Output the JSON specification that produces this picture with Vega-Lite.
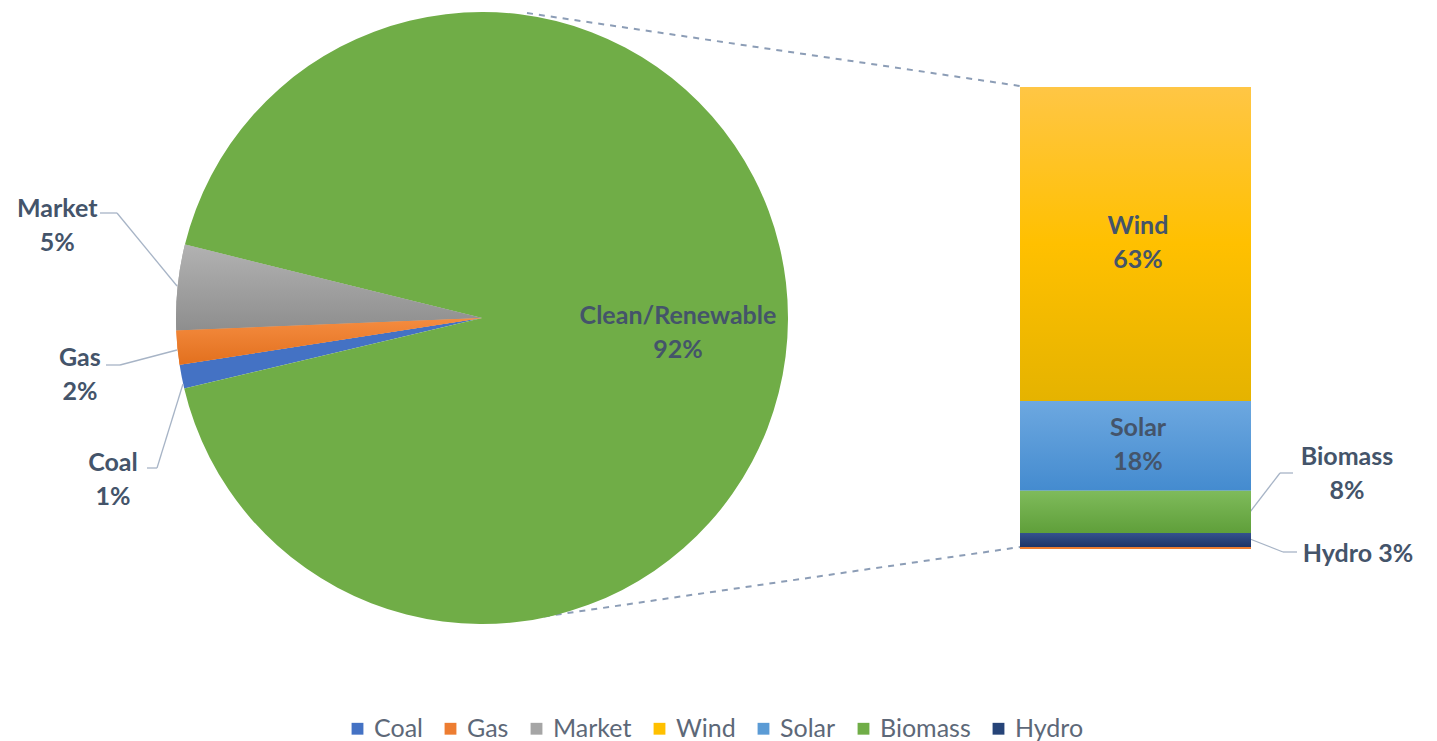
{
  "$schema": "https://vega.github.io/schema/vega-lite/v6.json",
  "width": 1437,
  "height": 741,
  "autosize": {"type": "none"},
  "padding": 0,
  "background": "white",
  "config": {"view": {"stroke": null}, "font": "Lato"},
  "datasets": {
    "pie": [
      {"category": "Coal", "share": 1.25, "seq": 1, "label": "Coal\n1%"},
      {"category": "Gas", "share": 1.8, "seq": 2, "label": "Gas\n2%"},
      {"category": "Market", "share": 4.5, "seq": 3, "label": "Market\n5%"},
      {"category": "Clean/Renewable", "share": 92.45, "seq": 4, "label": "Clean/Renewable\n92%"}
    ],
    "bar": [
      {"category": "Other", "share": 0.4, "seq": 1, "label": ""},
      {"category": "Hydro", "share": 2.8, "seq": 2, "label": "Hydro 3%"},
      {"category": "Biomass", "share": 8.4, "seq": 3, "label": "Biomass\n8%"},
      {"category": "Solar", "share": 17.9, "seq": 4, "label": "Solar\n18%"},
      {"category": "Wind", "share": 62.5, "seq": 5, "label": "Wind\n63%"}
    ]
  },
  "resolve": {"scale": {"y": "independent"}},
  "layer": [
    {
      "data": {"values": [{}]},
      "mark": {"type": "rule", "color": "#8C9DB6", "strokeWidth": 2, "strokeDash": [6, 6]},
      "encoding": {
        "x": {"datum": 527, "type": "quantitative", "scale": {"domain": [0, 1437], "nice": false, "zero": false}, "axis": null},
        "x2": {"datum": 1020},
        "y": {"datum": 13, "type": "quantitative", "scale": {"domain": [0, 741], "nice": false, "zero": false, "reverse": true}, "axis": null},
        "y2": {"datum": 86}
      }
    },
    {
      "data": {"values": [{}]},
      "mark": {"type": "rule", "color": "#8C9DB6", "strokeWidth": 2, "strokeDash": [6, 6]},
      "encoding": {
        "x": {"datum": 520, "type": "quantitative", "scale": {"domain": [0, 1437], "nice": false, "zero": false}, "axis": null},
        "x2": {"datum": 1020},
        "y": {"datum": 620, "type": "quantitative", "scale": {"domain": [0, 741], "nice": false, "zero": false, "reverse": true}, "axis": null},
        "y2": {"datum": 547}
      }
    },
    {
      "data": {"name": "pie"},
      "mark": {"type": "arc", "radius": 306},
      "encoding": {
        "x": {"datum": 482, "type": "quantitative", "scale": {"domain": [0, 1437], "nice": false, "zero": false}, "axis": null},
        "y": {"datum": 318, "type": "quantitative", "scale": {"domain": [0, 741], "nice": false, "zero": false, "reverse": true}, "axis": null},
        "theta": {"field": "share", "type": "quantitative", "stack": true, "scale": {"range": [4.4803, 10.7635]}},
        "order": {"field": "seq", "type": "quantitative"},
        "color": {
          "field": "category",
          "type": "nominal",
          "scale": {
            "domain": ["Coal", "Gas", "Market", "Wind", "Solar", "Biomass", "Hydro", "Clean/Renewable"],
            "range": ["#4472C4", "#ED7D31", "#A5A5A5", "#FFC000", "#5B9BD5", "#70AD47", "#264478", "#70AD47"]
          },
          "legend": {
            "orient": "none",
            "legendX": 345,
            "legendY": 716,
            "direction": "horizontal",
            "title": null,
            "values": ["Coal", "Gas", "Market", "Wind", "Solar", "Biomass", "Hydro"],
            "symbolType": "square",
            "symbolSize": 140,
            "symbolStrokeWidth": 0,
            "labelFont": "Lato",
            "labelFontSize": 25,
            "labelColor": "#5D6878",
            "labelOffset": 4,
            "columnPadding": 15
          }
        }
      }
    },
    {
      "data": {"name": "pie"},
      "mark": {"type": "arc", "radius": 306, "fill": {"gradient": "linear", "x1": 0, "y1": 0, "x2": 0, "y2": 1, "stops": [{"offset": 0, "color": "#B2B2B2"}, {"offset": 1, "color": "#8E8E8E"}]}},
      "encoding": {
        "x": {"datum": 482, "type": "quantitative", "scale": {"domain": [0, 1437], "nice": false, "zero": false}, "axis": null},
        "y": {"datum": 318, "type": "quantitative", "scale": {"domain": [0, 741], "nice": false, "zero": false, "reverse": true}, "axis": null},
        "theta": {"field": "share", "type": "quantitative", "stack": true, "scale": {"range": [4.4803, 10.7635]}},
        "order": {"field": "seq", "type": "quantitative"},
        "detail": {"field": "category", "type": "nominal"},
        "opacity": {"condition": {"test": "datum.category === 'Market'", "value": 1}, "value": 0}
      }
    },
    {
      "data": {"name": "pie"},
      "mark": {"type": "arc", "radius": 306, "fill": {"gradient": "linear", "x1": 0, "y1": 0, "x2": 0, "y2": 1, "stops": [{"offset": 0, "color": "#F58C40"}, {"offset": 1, "color": "#E2701E"}]}},
      "encoding": {
        "x": {"datum": 482, "type": "quantitative", "scale": {"domain": [0, 1437], "nice": false, "zero": false}, "axis": null},
        "y": {"datum": 318, "type": "quantitative", "scale": {"domain": [0, 741], "nice": false, "zero": false, "reverse": true}, "axis": null},
        "theta": {"field": "share", "type": "quantitative", "stack": true, "scale": {"range": [4.4803, 10.7635]}},
        "order": {"field": "seq", "type": "quantitative"},
        "detail": {"field": "category", "type": "nominal"},
        "opacity": {"condition": {"test": "datum.category === 'Gas'", "value": 1}, "value": 0}
      }
    },
    {
      "data": {"name": "pie"},
      "mark": {"type": "text", "radius": 196, "dy": -3, "font": "Lato", "fontWeight": "bold", "fontSize": 25, "color": "#44546A", "lineBreak": "\n", "lineHeight": 34, "align": "center", "baseline": "middle"},
      "encoding": {
        "x": {"datum": 482, "type": "quantitative", "scale": {"domain": [0, 1437], "nice": false, "zero": false}, "axis": null},
        "y": {"datum": 318, "type": "quantitative", "scale": {"domain": [0, 741], "nice": false, "zero": false, "reverse": true}, "axis": null},
        "theta": {"field": "share", "type": "quantitative", "stack": true, "scale": {"range": [4.4803, 10.7635]}},
        "order": {"field": "seq", "type": "quantitative"},
        "detail": {"field": "category", "type": "nominal"},
        "text": {"condition": {"test": "datum.category === 'Clean/Renewable'", "field": "label", "type": "nominal"}, "value": ""}
      }
    },
    {
      "data": {"name": "pie"},
      "mark": {"type": "text", "radius": 427, "dy": -66, "font": "Lato", "fontWeight": "bold", "fontSize": 25, "color": "#44546A", "lineBreak": "\n", "lineHeight": 34, "align": "center", "baseline": "middle"},
      "encoding": {
        "x": {"datum": 482, "type": "quantitative", "scale": {"domain": [0, 1437], "nice": false, "zero": false}, "axis": null},
        "y": {"datum": 318, "type": "quantitative", "scale": {"domain": [0, 741], "nice": false, "zero": false, "reverse": true}, "axis": null},
        "theta": {"field": "share", "type": "quantitative", "stack": true, "scale": {"range": [4.4803, 10.7635]}},
        "order": {"field": "seq", "type": "quantitative"},
        "detail": {"field": "category", "type": "nominal"},
        "text": {"condition": {"test": "datum.category === 'Market'", "field": "label", "type": "nominal"}, "value": ""}
      }
    },
    {
      "data": {"name": "pie"},
      "mark": {"type": "text", "radius": 404, "dy": 1, "font": "Lato", "fontWeight": "bold", "fontSize": 25, "color": "#44546A", "lineBreak": "\n", "lineHeight": 34, "align": "center", "baseline": "middle"},
      "encoding": {
        "x": {"datum": 482, "type": "quantitative", "scale": {"domain": [0, 1437], "nice": false, "zero": false}, "axis": null},
        "y": {"datum": 318, "type": "quantitative", "scale": {"domain": [0, 741], "nice": false, "zero": false, "reverse": true}, "axis": null},
        "theta": {"field": "share", "type": "quantitative", "stack": true, "scale": {"range": [4.4803, 10.7635]}},
        "order": {"field": "seq", "type": "quantitative"},
        "detail": {"field": "category", "type": "nominal"},
        "text": {"condition": {"test": "datum.category === 'Gas'", "field": "label", "type": "nominal"}, "value": ""}
      }
    },
    {
      "data": {"name": "pie"},
      "mark": {"type": "text", "radius": 376, "dy": 73, "font": "Lato", "fontWeight": "bold", "fontSize": 25, "color": "#44546A", "lineBreak": "\n", "lineHeight": 34, "align": "center", "baseline": "middle"},
      "encoding": {
        "x": {"datum": 482, "type": "quantitative", "scale": {"domain": [0, 1437], "nice": false, "zero": false}, "axis": null},
        "y": {"datum": 318, "type": "quantitative", "scale": {"domain": [0, 741], "nice": false, "zero": false, "reverse": true}, "axis": null},
        "theta": {"field": "share", "type": "quantitative", "stack": true, "scale": {"range": [4.4803, 10.7635]}},
        "order": {"field": "seq", "type": "quantitative"},
        "detail": {"field": "category", "type": "nominal"},
        "text": {"condition": {"test": "datum.category === 'Coal'", "field": "label", "type": "nominal"}, "value": ""}
      }
    },
    {
      "data": {"values": [{}]},
      "mark": {"type": "rule", "color": "#A7B4C6", "strokeWidth": 1.3},
      "encoding": {
        "x": {"datum": 100, "type": "quantitative", "scale": {"domain": [0, 1437], "nice": false, "zero": false}, "axis": null},
        "x2": {"datum": 117},
        "y": {"datum": 213, "type": "quantitative", "scale": {"domain": [0, 741], "nice": false, "zero": false, "reverse": true}, "axis": null},
        "y2": {"datum": 213}
      }
    },
    {
      "data": {"values": [{}]},
      "mark": {"type": "rule", "color": "#A7B4C6", "strokeWidth": 1.3},
      "encoding": {
        "x": {"datum": 117, "type": "quantitative", "scale": {"domain": [0, 1437], "nice": false, "zero": false}, "axis": null},
        "x2": {"datum": 177},
        "y": {"datum": 213, "type": "quantitative", "scale": {"domain": [0, 741], "nice": false, "zero": false, "reverse": true}, "axis": null},
        "y2": {"datum": 286}
      }
    },
    {
      "data": {"values": [{}]},
      "mark": {"type": "rule", "color": "#A7B4C6", "strokeWidth": 1.3},
      "encoding": {
        "x": {"datum": 106, "type": "quantitative", "scale": {"domain": [0, 1437], "nice": false, "zero": false}, "axis": null},
        "x2": {"datum": 120},
        "y": {"datum": 365, "type": "quantitative", "scale": {"domain": [0, 741], "nice": false, "zero": false, "reverse": true}, "axis": null},
        "y2": {"datum": 365}
      }
    },
    {
      "data": {"values": [{}]},
      "mark": {"type": "rule", "color": "#A7B4C6", "strokeWidth": 1.3},
      "encoding": {
        "x": {"datum": 120, "type": "quantitative", "scale": {"domain": [0, 1437], "nice": false, "zero": false}, "axis": null},
        "x2": {"datum": 177},
        "y": {"datum": 365, "type": "quantitative", "scale": {"domain": [0, 741], "nice": false, "zero": false, "reverse": true}, "axis": null},
        "y2": {"datum": 350}
      }
    },
    {
      "data": {"values": [{}]},
      "mark": {"type": "rule", "color": "#A7B4C6", "strokeWidth": 1.3},
      "encoding": {
        "x": {"datum": 147, "type": "quantitative", "scale": {"domain": [0, 1437], "nice": false, "zero": false}, "axis": null},
        "x2": {"datum": 157},
        "y": {"datum": 468, "type": "quantitative", "scale": {"domain": [0, 741], "nice": false, "zero": false, "reverse": true}, "axis": null},
        "y2": {"datum": 468}
      }
    },
    {
      "data": {"values": [{}]},
      "mark": {"type": "rule", "color": "#A7B4C6", "strokeWidth": 1.3},
      "encoding": {
        "x": {"datum": 157, "type": "quantitative", "scale": {"domain": [0, 1437], "nice": false, "zero": false}, "axis": null},
        "x2": {"datum": 183},
        "y": {"datum": 468, "type": "quantitative", "scale": {"domain": [0, 741], "nice": false, "zero": false, "reverse": true}, "axis": null},
        "y2": {"datum": 384}
      }
    },
    {
      "data": {"values": [{}]},
      "mark": {"type": "rule", "color": "#A7B4C6", "strokeWidth": 1.3},
      "encoding": {
        "x": {"datum": 1250, "type": "quantitative", "scale": {"domain": [0, 1437], "nice": false, "zero": false}, "axis": null},
        "x2": {"datum": 1280},
        "y": {"datum": 512, "type": "quantitative", "scale": {"domain": [0, 741], "nice": false, "zero": false, "reverse": true}, "axis": null},
        "y2": {"datum": 473}
      }
    },
    {
      "data": {"values": [{}]},
      "mark": {"type": "rule", "color": "#A7B4C6", "strokeWidth": 1.3},
      "encoding": {
        "x": {"datum": 1280, "type": "quantitative", "scale": {"domain": [0, 1437], "nice": false, "zero": false}, "axis": null},
        "x2": {"datum": 1293},
        "y": {"datum": 473, "type": "quantitative", "scale": {"domain": [0, 741], "nice": false, "zero": false, "reverse": true}, "axis": null},
        "y2": {"datum": 473}
      }
    },
    {
      "data": {"values": [{}]},
      "mark": {"type": "rule", "color": "#A7B4C6", "strokeWidth": 1.3},
      "encoding": {
        "x": {"datum": 1250, "type": "quantitative", "scale": {"domain": [0, 1437], "nice": false, "zero": false}, "axis": null},
        "x2": {"datum": 1283},
        "y": {"datum": 539, "type": "quantitative", "scale": {"domain": [0, 741], "nice": false, "zero": false, "reverse": true}, "axis": null},
        "y2": {"datum": 552}
      }
    },
    {
      "data": {"values": [{}]},
      "mark": {"type": "rule", "color": "#A7B4C6", "strokeWidth": 1.3},
      "encoding": {
        "x": {"datum": 1283, "type": "quantitative", "scale": {"domain": [0, 1437], "nice": false, "zero": false}, "axis": null},
        "x2": {"datum": 1297},
        "y": {"datum": 552, "type": "quantitative", "scale": {"domain": [0, 741], "nice": false, "zero": false, "reverse": true}, "axis": null},
        "y2": {"datum": 552}
      }
    },
    {
      "data": {"name": "bar"},
      "transform": [
        {"stack": "share", "groupby": [], "sort": [{"field": "seq", "order": "ascending"}], "as": ["y0", "y1"]},
        {"filter": "datum.category === 'Wind'"}
      ],
      "mark": {"type": "rect", "fill": {"gradient": "linear", "x1": 0, "y1": 0, "x2": 0, "y2": 1, "stops": [{"offset": 0, "color": "#FFC645"}, {"offset": 0.5, "color": "#FFC000"}, {"offset": 1, "color": "#E5B300"}]}},
      "encoding": {
        "x": {"datum": 1020, "type": "quantitative", "scale": {"domain": [0, 1437], "nice": false, "zero": false}, "axis": null},
        "x2": {"datum": 1251},
        "y": {"field": "y0", "type": "quantitative", "scale": {"domain": [-38.23, 109.33], "nice": false, "zero": false}, "axis": null},
        "y2": {"field": "y1"}
      }
    },
    {
      "data": {"name": "bar"},
      "transform": [
        {"stack": "share", "groupby": [], "sort": [{"field": "seq", "order": "ascending"}], "as": ["y0", "y1"]},
        {"filter": "datum.category === 'Solar'"}
      ],
      "mark": {"type": "rect", "fill": {"gradient": "linear", "x1": 0, "y1": 0, "x2": 0, "y2": 1, "stops": [{"offset": 0, "color": "#6DA8E0"}, {"offset": 1, "color": "#448BCF"}]}},
      "encoding": {
        "x": {"datum": 1020, "type": "quantitative", "scale": {"domain": [0, 1437], "nice": false, "zero": false}, "axis": null},
        "x2": {"datum": 1251},
        "y": {"field": "y0", "type": "quantitative", "scale": {"domain": [-38.23, 109.33], "nice": false, "zero": false}, "axis": null},
        "y2": {"field": "y1"}
      }
    },
    {
      "data": {"name": "bar"},
      "transform": [
        {"stack": "share", "groupby": [], "sort": [{"field": "seq", "order": "ascending"}], "as": ["y0", "y1"]},
        {"filter": "datum.category === 'Biomass'"}
      ],
      "mark": {"type": "rect", "fill": {"gradient": "linear", "x1": 0, "y1": 0, "x2": 0, "y2": 1, "stops": [{"offset": 0, "color": "#7FBB5B"}, {"offset": 1, "color": "#5F9F3A"}]}},
      "encoding": {
        "x": {"datum": 1020, "type": "quantitative", "scale": {"domain": [0, 1437], "nice": false, "zero": false}, "axis": null},
        "x2": {"datum": 1251},
        "y": {"field": "y0", "type": "quantitative", "scale": {"domain": [-38.23, 109.33], "nice": false, "zero": false}, "axis": null},
        "y2": {"field": "y1"}
      }
    },
    {
      "data": {"name": "bar"},
      "transform": [
        {"stack": "share", "groupby": [], "sort": [{"field": "seq", "order": "ascending"}], "as": ["y0", "y1"]},
        {"filter": "datum.category === 'Hydro'"}
      ],
      "mark": {"type": "rect", "fill": {"gradient": "linear", "x1": 0, "y1": 0, "x2": 0, "y2": 1, "stops": [{"offset": 0, "color": "#34528E"}, {"offset": 1, "color": "#1D3467"}]}},
      "encoding": {
        "x": {"datum": 1020, "type": "quantitative", "scale": {"domain": [0, 1437], "nice": false, "zero": false}, "axis": null},
        "x2": {"datum": 1251},
        "y": {"field": "y0", "type": "quantitative", "scale": {"domain": [-38.23, 109.33], "nice": false, "zero": false}, "axis": null},
        "y2": {"field": "y1"}
      }
    },
    {
      "data": {"name": "bar"},
      "transform": [
        {"stack": "share", "groupby": [], "sort": [{"field": "seq", "order": "ascending"}], "as": ["y0", "y1"]},
        {"filter": "datum.category === 'Other'"}
      ],
      "mark": {"type": "rect", "fill": "#ED7D31"},
      "encoding": {
        "x": {"datum": 1020, "type": "quantitative", "scale": {"domain": [0, 1437], "nice": false, "zero": false}, "axis": null},
        "x2": {"datum": 1251},
        "y": {"field": "y0", "type": "quantitative", "scale": {"domain": [-38.23, 109.33], "nice": false, "zero": false}, "axis": null},
        "y2": {"field": "y1"}
      }
    },
    {
      "data": {"name": "bar"},
      "transform": [
        {"stack": "share", "groupby": [], "sort": [{"field": "seq", "order": "ascending"}], "as": ["y0", "y1"]},
        {"calculate": "(datum.y0 + datum.y1) / 2", "as": "ymid"},
        {"filter": "datum.category === 'Wind' || datum.category === 'Solar'"}
      ],
      "mark": {"type": "text", "dy": -18, "font": "Lato", "fontWeight": "bold", "fontSize": 25, "color": "#44546A", "lineBreak": "\n", "lineHeight": 34, "align": "center", "baseline": "middle"},
      "encoding": {
        "x": {"datum": 1138, "type": "quantitative", "scale": {"domain": [0, 1437], "nice": false, "zero": false}, "axis": null},
        "y": {"field": "ymid", "type": "quantitative", "scale": {"domain": [-38.23, 109.33], "nice": false, "zero": false}, "axis": null},
        "text": {"field": "label", "type": "nominal"}
      }
    },
    {
      "data": {"name": "bar"},
      "transform": [
        {"stack": "share", "groupby": [], "sort": [{"field": "seq", "order": "ascending"}], "as": ["y0", "y1"]},
        {"calculate": "(datum.y0 + datum.y1) / 2", "as": "ymid"},
        {"filter": "datum.category === 'Biomass'"}
      ],
      "mark": {"type": "text", "dy": -55, "font": "Lato", "fontWeight": "bold", "fontSize": 25, "color": "#44546A", "lineBreak": "\n", "lineHeight": 34, "align": "center", "baseline": "middle"},
      "encoding": {
        "x": {"datum": 1347, "type": "quantitative", "scale": {"domain": [0, 1437], "nice": false, "zero": false}, "axis": null},
        "y": {"field": "ymid", "type": "quantitative", "scale": {"domain": [-38.23, 109.33], "nice": false, "zero": false}, "axis": null},
        "text": {"field": "label", "type": "nominal"}
      }
    },
    {
      "data": {"name": "bar"},
      "transform": [
        {"stack": "share", "groupby": [], "sort": [{"field": "seq", "order": "ascending"}], "as": ["y0", "y1"]},
        {"calculate": "(datum.y0 + datum.y1) / 2", "as": "ymid"},
        {"filter": "datum.category === 'Hydro'"}
      ],
      "mark": {"type": "text", "dy": 14, "font": "Lato", "fontWeight": "bold", "fontSize": 25, "color": "#44546A", "align": "center", "baseline": "middle"},
      "encoding": {
        "x": {"datum": 1358, "type": "quantitative", "scale": {"domain": [0, 1437], "nice": false, "zero": false}, "axis": null},
        "y": {"field": "ymid", "type": "quantitative", "scale": {"domain": [-38.23, 109.33], "nice": false, "zero": false}, "axis": null},
        "text": {"field": "label", "type": "nominal"}
      }
    }
  ]
}
